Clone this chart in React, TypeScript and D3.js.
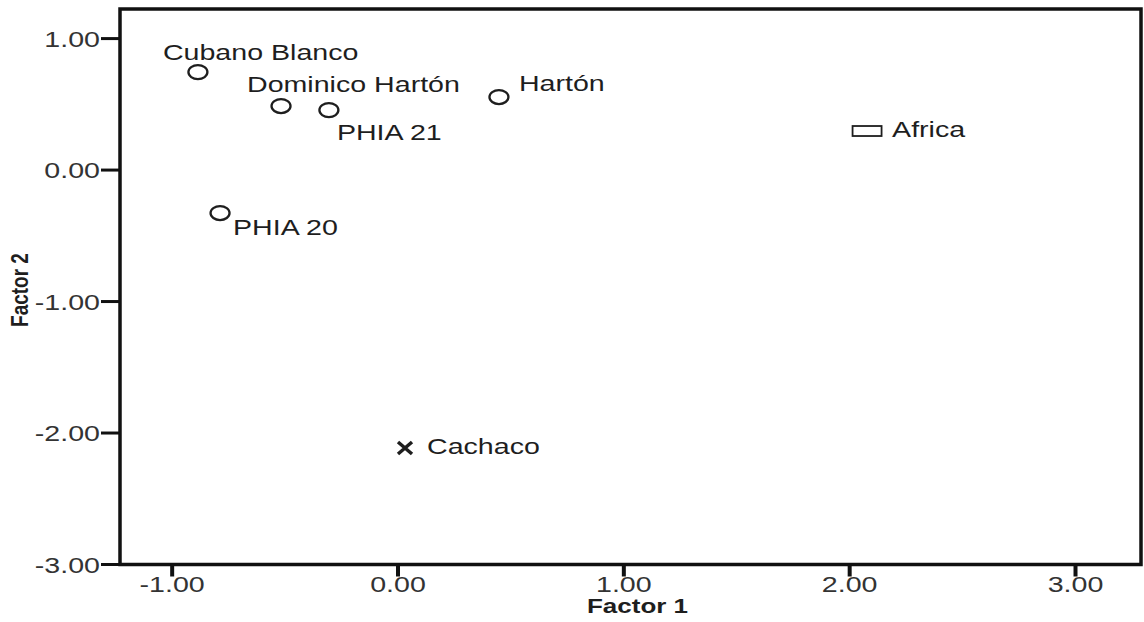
import React from "react";
import * as d3 from "d3";

const labels = ["Cubano Blanco", "Dominico Hartón", "PHIA 21", "Hartón", "Africa", "PHIA 20", "Cachaco"];
const factor1 = [-0.886, -0.518, -0.306, 0.447, 2.077, -0.788, 0.031];
const factor2 = [0.745, 0.487, 0.456, 0.555, 0.297, -0.327, -2.114];
const groups = ["circle", "circle", "circle", "circle", "rect", "circle", "cross"];

const xTicks = [-1, 0, 1, 2, 3];
const yTicks = [1, 0, -1, -2, -3];

// label offsets (layout only)
const labelDx = [-35, -34, 8, 20, 25, 13, 22];
const labelDy = [-12, -14, 30, -6, 6, 22, 6];

const W = 1144;
const H = 622;
const SX = 1.3; // horizontal stretch of text
const FONT = "'Liberation Sans', Arial, sans-serif";
const INK = "#1e1e1e";

export default function App() {
  const x = d3.scaleLinear().domain([-1.231, 3.29]).range([120, 1141]);
  const y = d3.scaleLinear().domain([-3.0, 1.225]).range([564.5, 9]);
  const fmt = (v: number) => d3.format(".2f")(v).replace("\u2212", "-");

  const [x0, x1] = x.range();
  const [yb, yt] = y.range();

  return (
    <svg width={W} height={H} style={{ position: "absolute", left: 0, top: 0, background: "#fff" }}>
      <rect x={0} y={0} width={W} height={H} fill="#fff" />
      {/* frame */}
      <rect x={x0} y={yt} width={x1 - x0} height={yb - yt} fill="none" stroke="#111" strokeWidth={3.5} />

      {/* y ticks */}
      {yTicks.map((t) => (
        <g key={"y" + t}>
          <line x1={101} x2={x0} y1={y(t)} y2={y(t)} stroke="#111" strokeWidth={3} />
          <text
            transform={`translate(100,${y(t) + 8}) scale(${SX},1)`}
            textAnchor="end"
            fontFamily={FONT}
            fontSize={22}
            fill="#333"
          >
            {fmt(t)}
          </text>
        </g>
      ))}

      {/* x ticks */}
      {xTicks.map((t) => (
        <g key={"x" + t}>
          <line x1={x(t)} x2={x(t)} y1={yb} y2={yb + 12} stroke="#111" strokeWidth={4} />
          <text
            transform={`translate(${x(t)},${592}) scale(${SX},1)`}
            textAnchor="middle"
            fontFamily={FONT}
            fontSize={22}
            fill="#333"
          >
            {fmt(t)}
          </text>
        </g>
      ))}

      {/* axis titles */}
      <text
        transform={`translate(${(x0 + x1) / 2 + 7},613) scale(${SX},1)`}
        textAnchor="middle"
        fontFamily={FONT}
        fontSize={20}
        fontWeight="bold"
        fill={INK}
      >
        Factor 1
      </text>
      <text
        transform={`translate(28,290) scale(${SX},1) rotate(-90)`}
        textAnchor="middle"
        fontFamily={FONT}
        fontSize={19}
        fontWeight="bold"
        fill={INK}
      >
        Factor 2
      </text>

      {/* points */}
      {labels.map((lab, i) => {
        const cx = x(factor1[i]);
        const cy = y(factor2[i]);
        const g = groups[i];
        return (
          <g key={lab}>
            {g === "circle" && (
              <ellipse cx={cx} cy={cy} rx={9.5} ry={7} fill="none" stroke={INK} strokeWidth={2.3} />
            )}
            {g === "rect" && (
              <rect x={cx - 14.5} y={cy - 5} width={29} height={10} fill="none" stroke={INK} strokeWidth={1.8} />
            )}
            {g === "cross" && (
              <path
                d={`M${cx - 7},${cy - 6}L${cx + 7},${cy + 6}M${cx + 7},${cy - 6}L${cx - 7},${cy + 6}`}
                stroke={INK}
                strokeWidth={3.5}
                fill="none"
              />
            )}
            <text
              transform={`translate(${cx + labelDx[i]},${cy + labelDy[i]}) scale(${SX},1)`}
              fontFamily={FONT}
              fontSize={22}
              fill={INK}
            >
              {lab}
            </text>
          </g>
        );
      })}
    </svg>
  );
}
